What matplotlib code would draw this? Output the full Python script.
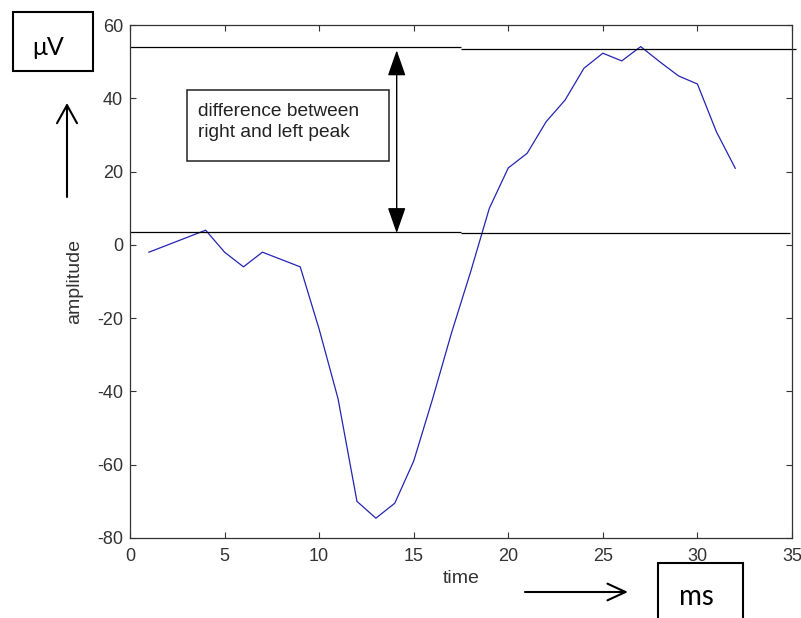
import numpy as np
import matplotlib
matplotlib.use('Agg')
import matplotlib.pyplot as plt
from matplotlib.patches import Rectangle

plt.rcParams['font.family'] = ['Liberation Sans', 'DejaVu Sans']
plt.rcParams['axes.unicode_minus'] = False

# data
time = np.arange(1, 33)
amplitude = [-2, 0, 2, 4, -2, -6, -2, -4, -6, -23,
             -42, -70, -74.6, -70.5, -59, -42, -24, -7.5, 10, 21,
             25, 33.6, 39.5, 48.2, 52.3, 50.2, 54.1, 50, 46.1, 43.9,
             30.9, 20.9]

# hand drawn reference lines (two segments each)
upper_y = [53.9, 53.5]
upper_start = [0, 17.5]
upper_end = [17.5, 35.2]
lower_y = [3.6, 3.2]
lower_start = [0, 17.5]
lower_end = [17.5, 34.9]
arrow_x = 14.1

xticks = [0, 5, 10, 15, 20, 25, 30, 35]
yticks = [-80, -60, -40, -20, 0, 20, 40, 60]

W, H = 801, 618
fig = plt.figure(figsize=(W / 100, H / 100), dpi=100)
ax = fig.add_axes([130 / W, 80 / H, 662 / W, 513 / H])

ax.plot(time, amplitude, color='#2424b4', lw=0.9)

ax.hlines(upper_y, upper_start, upper_end, colors='black', lw=0.9, clip_on=False)
ax.hlines(lower_y, lower_start, lower_end, colors='black', lw=0.9, clip_on=False)

ax.annotate('', xy=(arrow_x, upper_y[0] - 0.8), xytext=(arrow_x, lower_y[0] - 0.4),
            arrowprops=dict(arrowstyle='<|-|>,head_length=0.8,head_width=0.28',
                            color='black', lw=1.0, mutation_scale=20,
                            shrinkA=0, shrinkB=0))

ax.set_xlim(0, 35)
ax.set_ylim(-80, 60)
ax.set_xticks(xticks)
ax.set_yticks(yticks)
ax.tick_params(direction='in', top=True, right=True, length=4.5, width=0.8,
               labelsize=13, colors='#333333', pad=5)
ax.tick_params(axis='x', pad=7)
for s in ax.spines.values():
    s.set_color('#333333')
    s.set_linewidth(0.9)

ax.set_xlabel('time', fontsize=14, color='#333333')
ax.set_ylabel('amplitude', fontsize=14, color='#333333')
ax.xaxis.set_label_coords(0.5, -0.062)
ax.yaxis.set_label_coords(-0.071, 0.5)

# text box in the plot
fig.add_artist(Rectangle((187 / W, 1 - 161 / H), 202 / W, 71 / H,
                         transform=fig.transFigure, fill=False,
                         edgecolor='#222222', lw=1.1))
fig.text(198 / W, 1 - 122 / H, 'difference between\nright and left peak',
         fontsize=13.8, va='center', ha='left', color='#222222',
         linespacing=1.3)

# unit boxes and arrows added around the plot
fig.add_artist(Rectangle((13 / W, 1 - 71 / H), 80 / W, 59 / H,
                         transform=fig.transFigure, fill=False,
                         edgecolor='black', lw=1.5))
fig.text(48 / W, 1 - 55 / H, 'μV', fontsize=18, ha='center', va='baseline',
         family=['Lato', 'DejaVu Sans'])
fig.add_artist(Rectangle((658 / W, 1 - 625 / H), 85 / W, 62 / H,
                         transform=fig.transFigure, fill=False,
                         edgecolor='black', lw=1.5, clip_on=False))
fig.text(696 / W, 1 - 605 / H, 'ms', fontsize=20, ha='center', va='baseline',
         family=['Lato', 'DejaVu Sans'])

ax.annotate('', xy=(67, H - 103), xytext=(67, H - 197), xycoords='figure pixels',
            textcoords='figure pixels',
            arrowprops=dict(arrowstyle='->,head_length=0.65,head_width=0.36',
                            color='black', lw=1.5, mutation_scale=20,
                            shrinkA=0, shrinkB=0))
ax.annotate('', xy=(628, H - 592), xytext=(525, H - 592), xycoords='figure pixels',
            textcoords='figure pixels',
            arrowprops=dict(arrowstyle='->,head_length=0.65,head_width=0.3',
                            color='black', lw=1.5, mutation_scale=20,
                            shrinkA=0, shrinkB=0))

fig.savefig('out.png', dpi=100)
